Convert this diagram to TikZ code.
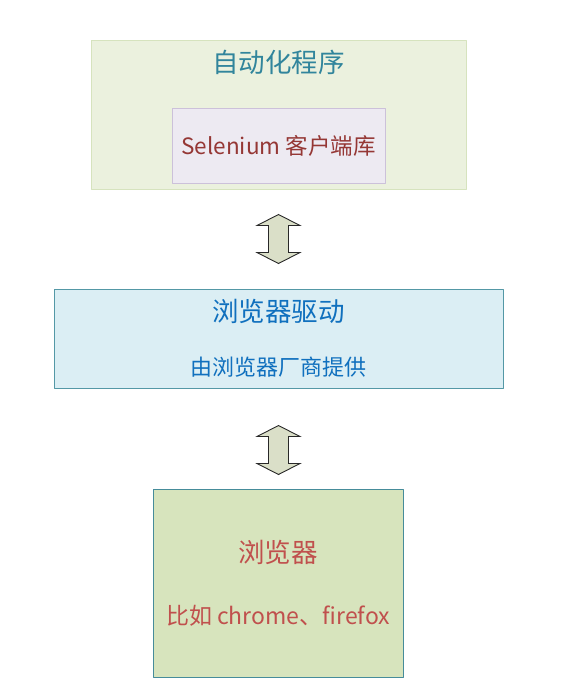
\documentclass[tikz,border=0pt]{standalone}
\usepackage{fontspec}
\setmainfont{Noto Sans CJK SC}
\usetikzlibrary{calc}

\tikzset{
  box/.style={draw, line width=0.9pt, inner sep=0pt},
  label/.style={inner sep=0pt, anchor=center},
  updown/.pic={
    \draw[line width=0.9pt, draw=arrline, fill=arrfill, line join=miter]
      (0,-24.5) -- (21.5,-13.5) -- (10,-13.5) -- (10,13.5) -- (21.5,13.5)
      -- (0,24.5) -- (-21.5,13.5) -- (-10,13.5) -- (-10,-13.5) -- (-21.5,-13.5) -- cycle;
  }
}

\begin{document}
\begin{tikzpicture}[line cap=round,line join=round,x=1pt,y=-1pt]
\definecolor{progfill}{RGB}{235,241,222}
\definecolor{progline}{RGB}{214,227,190}
\definecolor{clientfill}{RGB}{237,234,242}
\definecolor{clientline}{RGB}{204,193,218}
\definecolor{driverfill}{RGB}{219,238,244}
\definecolor{driverline}{RGB}{84,152,166}
\definecolor{browserfill}{RGB}{215,228,189}
\definecolor{browserline}{RGB}{70,140,154}
\definecolor{tealtext}{RGB}{49,133,156}
\definecolor{redtext}{RGB}{149,55,53}
\definecolor{bluetext}{RGB}{16,112,190}
\definecolor{browsertext}{RGB}{192,80,77}
\definecolor{arrfill}{RGB}{218,223,200}
\definecolor{arrline}{RGB}{40,40,40}
\useasboundingbox (0,0) rectangle (574,696);
% automation program with the client library
\node[box, draw=progline, fill=progfill, minimum width=375, minimum height=149] (prog) at (278.5,114.5) {};
\node[label, text=tealtext, font=\fontsize{26.5}{30}\selectfont] (progtitle) at (278.5,62) {自动化程序};
\node[box, draw=clientline, fill=clientfill, minimum width=213, minimum height=75,
      text=redtext, font=\fontsize{22.5}{26}\selectfont] (client) at (278.5,145.5) {Selenium 客户端库};
% browser driver
\node[box, draw=driverline, fill=driverfill, minimum width=449, minimum height=99] (driver) at (278.5,338.5) {};
\node[label, text=bluetext, font=\fontsize{26.5}{30}\selectfont] (drivertitle) at (278.5,311.5) {浏览器驱动};
\node[label, text=bluetext, font=\fontsize{22}{26}\selectfont] (vendor) at (278,367.5) {由浏览器厂商提供};
% browser
\node[box, draw=browserline, fill=browserfill, minimum width=250, minimum height=188] (browser) at (278,583) {};
\node[label, text=browsertext, font=\fontsize{26.5}{30}\selectfont] (browsertitle) at (278,552.5) {浏览器};
\node[label, text=browsertext, font=\fontsize{23}{27}\selectfont] (examples) at (278,615.5) {比如 chrome、firefox};
% two-way arrows
\coordinate (arrtop) at ($(prog.south)!0.5!(driver.north)$);
\coordinate (arrbottom) at (278.5,450);
\pic at (arrtop) {updown};
\pic at (arrbottom) {updown};
\end{tikzpicture}
\end{document}
